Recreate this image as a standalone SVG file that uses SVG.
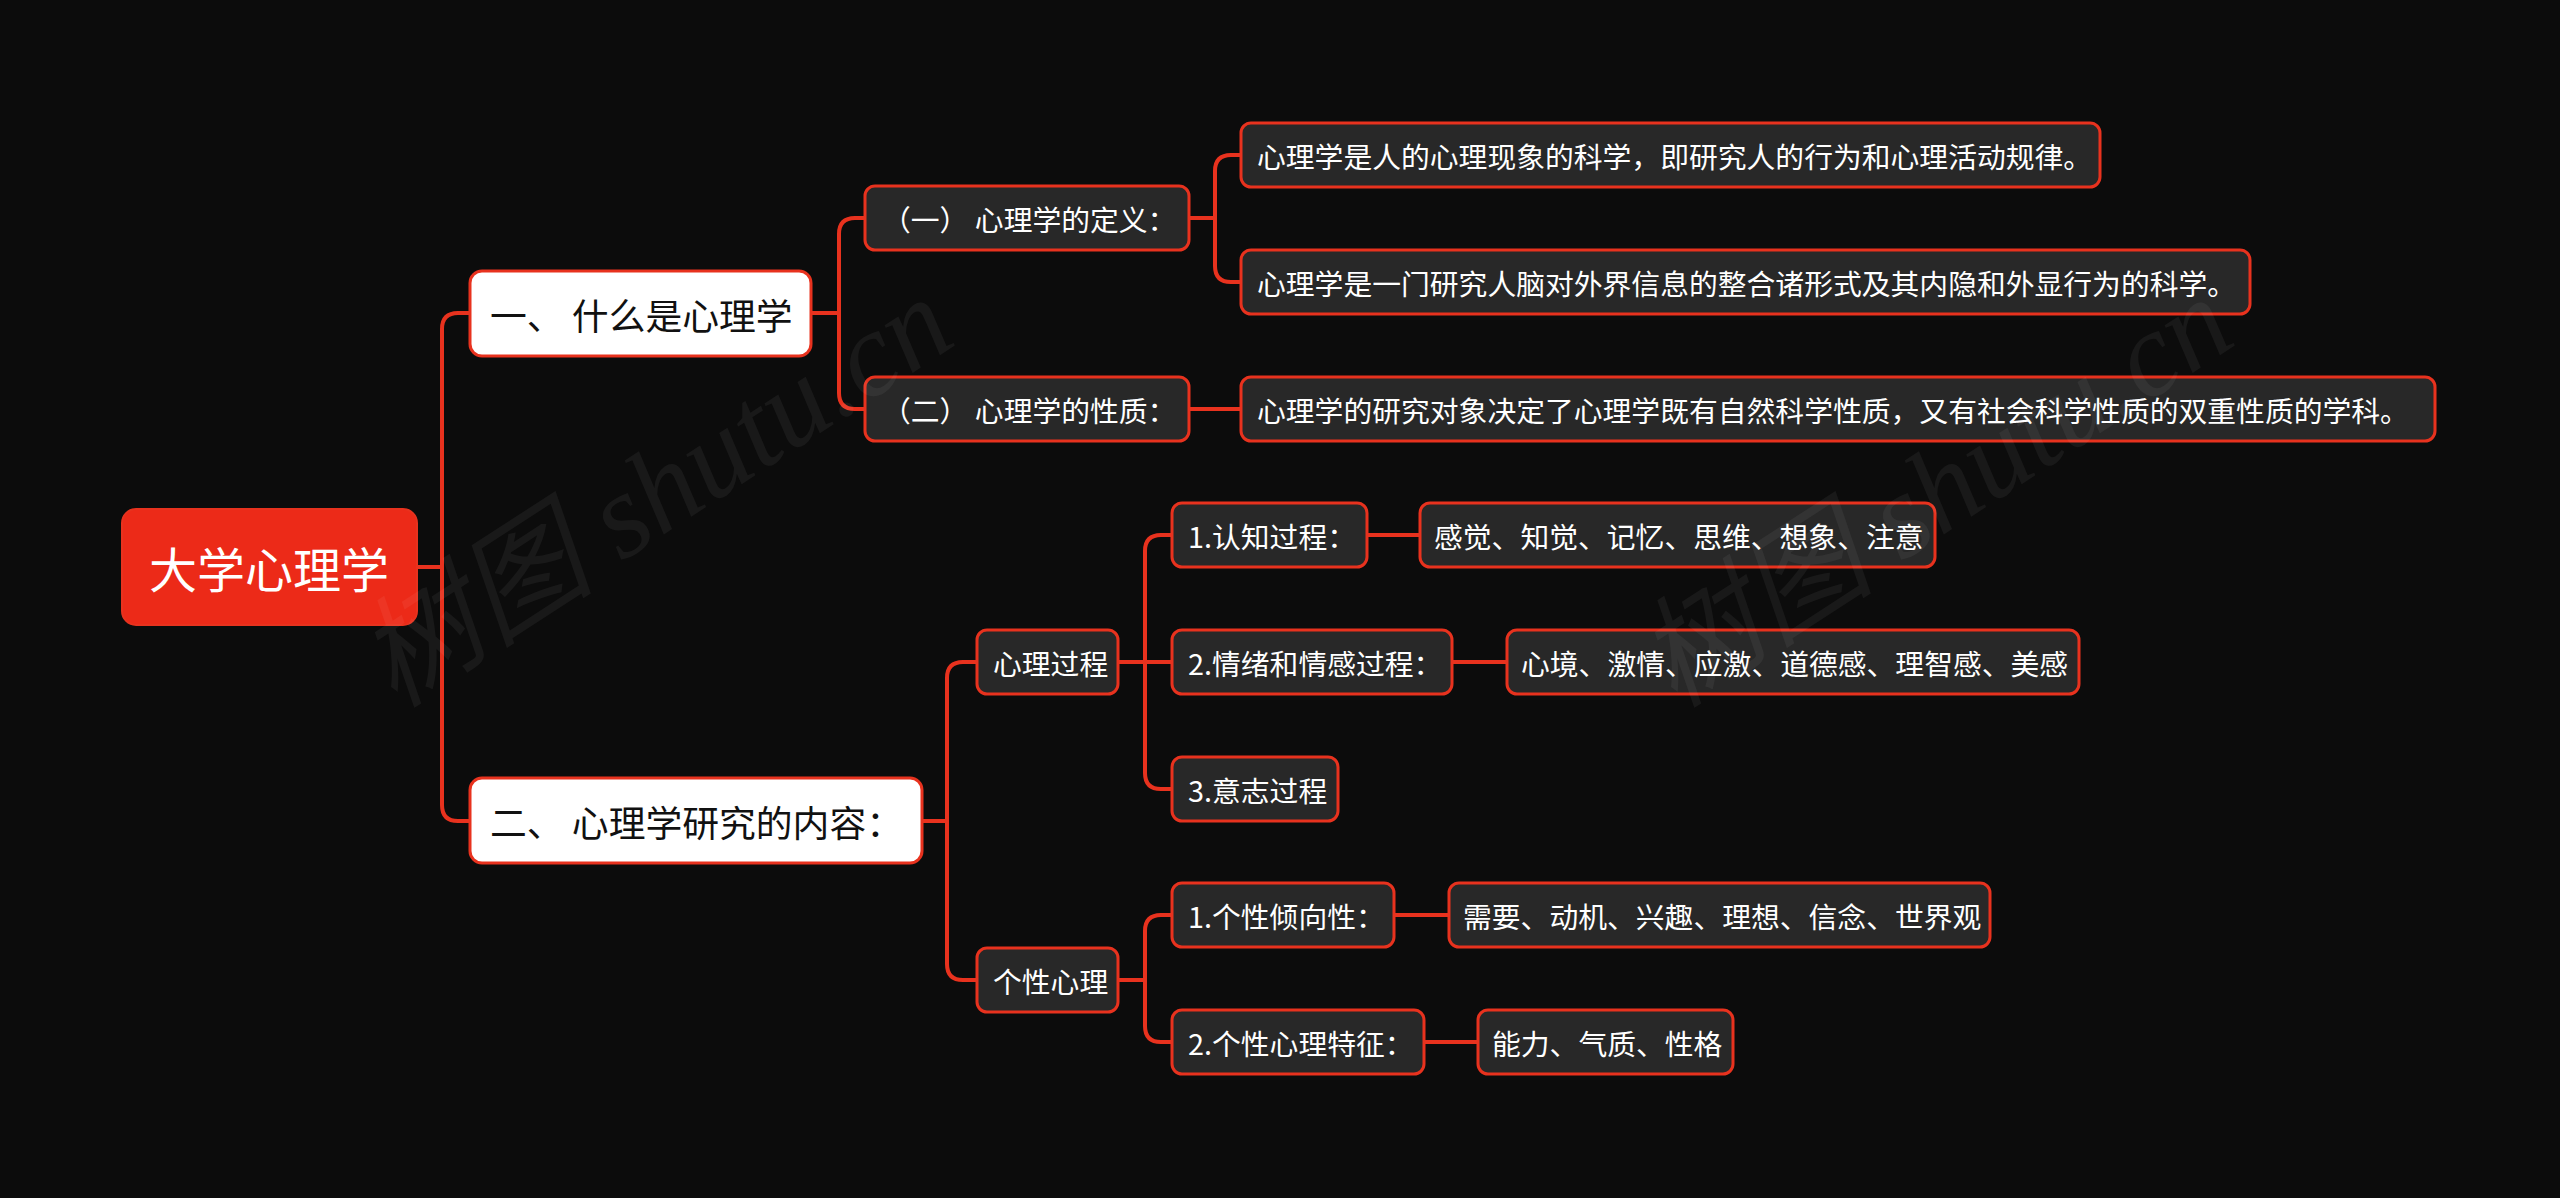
<svg xmlns="http://www.w3.org/2000/svg" width="2560" height="1198" viewBox="0 0 2560 1198">
<defs>
<style>
.bg{fill:#0c0c0c}
.ln{fill:none;stroke:#e8321e;stroke-width:4;stroke-linecap:round;stroke-linejoin:round}
.root rect{fill:#ec2a18;stroke:#e8321e;stroke-width:2}
.l1 rect{fill:#ffffff;stroke:#e8321e;stroke-width:3}
.dk rect{fill:#282828;stroke:#e8321e;stroke-width:3}
text{font-family:"Noto Sans CJK SC","Noto Sans",sans-serif;dominant-baseline:central}
.root text{fill:#ffffff;font-size:48px;text-anchor:middle}
.l1 text{fill:#111111;font-size:36.8px}
.dk text{fill:#ffffff;font-size:28.8px}
.wm{fill:#ffffff;fill-opacity:0.055;font-family:"Liberation Serif","Noto Sans CJK SC",serif;font-style:italic;font-size:120px;text-anchor:middle}
</style>
</defs>
<rect class="bg" x="0" y="0" width="2560" height="1198"/>

<g id="connectors">
<path class="ln" d="M417,567 H442"/>
<path class="ln" d="M470,313 H458 Q442,313 442,329 V805 Q442,821 458,821 H470"/>
<path class="ln" d="M811,313 H839"/>
<path class="ln" d="M865,218 H855 Q839,218 839,234 V393 Q839,409 855,409 H865"/>
<path class="ln" d="M1189,218 H1215"/>
<path class="ln" d="M1241,155 H1231 Q1215,155 1215,171 V266 Q1215,282 1231,282 H1241"/>
<path class="ln" d="M1189,409 H1241"/>
<path class="ln" d="M922,821 H947"/>
<path class="ln" d="M977,662 H963 Q947,662 947,678 V964 Q947,980 963,980 H977"/>
<path class="ln" d="M1118,662 H1172"/>
<path class="ln" d="M1172,535 H1161 Q1145,535 1145,551 V773 Q1145,789 1161,789 H1172"/>
<path class="ln" d="M1118,980 H1145"/>
<path class="ln" d="M1172,915 H1161 Q1145,915 1145,931 V1026 Q1145,1042 1161,1042 H1172"/>
<path class="ln" d="M1367,535 H1420"/>
<path class="ln" d="M1452,662 H1507"/>
<path class="ln" d="M1394,915 H1449"/>
<path class="ln" d="M1424,1042 H1478"/>
</g>

<g id="n-root" class="root"><rect x="122" y="509" width="295" height="116" rx="14"/><text x="269" y="567">大学心理学</text></g>

<g id="n-1" class="l1"><rect x="470" y="271" width="341" height="85" rx="12"/><text x="490" y="314">一、 什么是心理学</text></g>
<g id="n-2" class="l1"><rect x="470" y="778" width="452" height="85" rx="12"/><text x="490" y="821">二、 心理学研究的内容：</text></g>

<g id="n-1-1" class="dk"><rect x="865" y="186" width="324" height="64" rx="10"/><text x="882" y="218">（一） 心理学的定义：</text></g>
<g id="n-1-2" class="dk"><rect x="865" y="377" width="324" height="64" rx="10"/><text x="882" y="409">（二） 心理学的性质：</text></g>

<g id="n-1-1-1" class="dk"><rect x="1241" y="123" width="859" height="64" rx="10"/><text x="1257" y="155">心理学是人的心理现象的科学，即研究人的行为和心理活动规律。</text></g>
<g id="n-1-1-2" class="dk"><rect x="1241" y="250" width="1009" height="64" rx="10"/><text x="1257" y="282">心理学是一门研究人脑对外界信息的整合诸形式及其内隐和外显行为的科学。</text></g>
<g id="n-1-2-1" class="dk"><rect x="1241" y="377" width="1194" height="64" rx="10"/><text x="1257" y="409">心理学的研究对象决定了心理学既有自然科学性质，又有社会科学性质的双重性质的学科。</text></g>

<g id="n-2-1" class="dk"><rect x="977" y="630" width="141" height="64" rx="10"/><text x="993" y="662">心理过程</text></g>
<g id="n-2-2" class="dk"><rect x="977" y="948" width="141" height="64" rx="10"/><text x="993" y="980">个性心理</text></g>

<g id="n-2-1-1" class="dk"><rect x="1172" y="503" width="195" height="64" rx="10"/><text x="1188" y="535">1.认知过程：</text></g>
<g id="n-2-1-2" class="dk"><rect x="1172" y="630" width="280" height="64" rx="10"/><text x="1188" y="662">2.情绪和情感过程：</text></g>
<g id="n-2-1-3" class="dk"><rect x="1172" y="757" width="166" height="64" rx="10"/><text x="1188" y="789">3.意志过程</text></g>

<g id="n-2-1-1-1" class="dk"><rect x="1420" y="503" width="515" height="64" rx="10"/><text x="1434" y="535">感觉、知觉、记忆、思维、想象、注意</text></g>
<g id="n-2-1-2-1" class="dk"><rect x="1507" y="630" width="572" height="64" rx="10"/><text x="1521" y="662">心境、激情、应激、道德感、理智感、美感</text></g>

<g id="n-2-2-1" class="dk"><rect x="1172" y="883" width="222" height="64" rx="10"/><text x="1188" y="915">1.个性倾向性：</text></g>
<g id="n-2-2-2" class="dk"><rect x="1172" y="1010" width="252" height="64" rx="10"/><text x="1188" y="1042">2.个性心理特征：</text></g>

<g id="n-2-2-1-1" class="dk"><rect x="1449" y="883" width="541" height="64" rx="10"/><text x="1463" y="915">需要、动机、兴趣、理想、信念、世界观</text></g>
<g id="n-2-2-2-1" class="dk"><rect x="1478" y="1010" width="255" height="64" rx="10"/><text x="1492" y="1042">能力、气质、性格</text></g>

<g id="watermark">
<text class="wm" x="655" y="492" transform="rotate(-33 655 492)">树图 shutu.cn</text>
<text class="wm" x="1935" y="492" transform="rotate(-33 1935 492)">树图 shutu.cn</text>
</g>
</svg>
